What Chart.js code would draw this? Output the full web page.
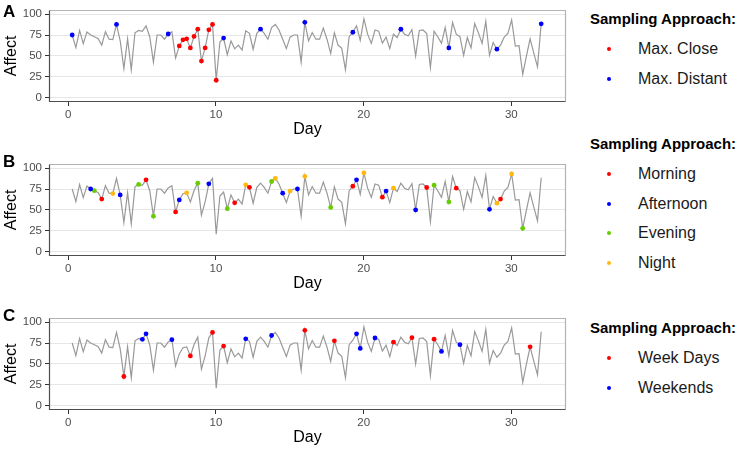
<!DOCTYPE html>
<html>
<head>
<meta charset="utf-8">
<script src="https://cdn.jsdelivr.net/npm/chart.js@4.4.1/dist/chart.umd.min.js"></script>
<style>
  body { margin: 0; width: 749px; height: 449px; background: #fff; position: relative; overflow: hidden;
         font-family: "Liberation Sans", Arial, sans-serif; }
  canvas { position: absolute; left: 0; }
  .tag { position: absolute; left: 3px; font-weight: bold; font-size: 17px; line-height: 20px; color: #000; }
  .legTitle { position: absolute; left: 590px; font-weight: bold; font-size: 15px; line-height: 18px; color: #000; white-space: nowrap; }
  .legItem { position: absolute; left: 638px; font-size: 16px; line-height: 18px; color: #1a1a1a; white-space: nowrap; }
  .legDot { position: absolute; left: 607px; width: 4px; height: 4px; border-radius: 50%; }
</style>
</head>
<body>
<canvas id="chartA" width="570" height="142" style="top:0px"></canvas>
<canvas id="chartB" width="570" height="142" style="top:154px"></canvas>
<canvas id="chartC" width="570" height="142" style="top:308px"></canvas>
<div class="tag" style="top:2px">A</div>
<div class="tag" style="top:152px">B</div>
<div class="tag" style="top:306px">C</div>
<div id="legends"></div>
<script>
// affect ratings, 4 samples a day, starting at day 0.27
const startDay = 0.27;
const perDay = 4;
const affect = [
  75, 60, 80.5, 64.6, 78.7, 75, 73, 71, 63, 79, 70, 69.5, 87.7, 68, 35, 70.7,
  33.6, 77.6, 80.5, 79.4, 86, 73, 42.6, 75, 75, 70, 76.2, 79, 47.6, 62, 69.3, 70.4,
  59.6, 73.3, 82, 43.9, 59.6, 81.2, 87.7, 21, 66.7, 71.4, 51.5, 68, 58.5, 63, 57, 80,
  77, 58, 77, 82, 77, 70, 84, 87.6, 81, 70, 58.8, 72.5, 75, 75, 42.6, 90.2, 68, 78,
  70, 70, 83.3, 70, 53, 77.6, 63, 59, 33.6, 73, 78.3, 86, 68.6, 94.2, 76, 65, 81, 79.6,
  65.3, 72.5, 58.8, 76, 72, 81.9, 76, 74, 81.4, 50, 80.4, 81, 76.8, 36, 79.6, 73, 65, 84,
  59.6, 90, 76, 73, 50.8, 72, 59.6, 88.7, 77.6, 65, 91.3, 50.8, 66, 58.1, 63, 72.5, 76.8, 93,
  61.7, 62.4, 28, 49.8, 70.4, 53.4, 37, 88.4
];
const days = affect.map((v, i) => startDay + i / perDay);

// sampled measurements (indices into affect)
const maxClose    = [29, 30, 31, 32, 33, 34, 35, 36, 37, 38, 39];
const maxDistant  = [0, 12, 26, 41, 51, 63, 76, 89, 102, 115, 127];
const morning     = [8, 20, 28, 44, 48, 76, 84, 96, 104, 116];
const afternoon   = [5, 13, 29, 37, 57, 61, 77, 85, 93, 113];
const evening     = [6, 18, 22, 34, 42, 54, 70, 98, 102, 122];
const night       = [11, 31, 47, 55, 59, 63, 79, 87, 115, 119];
const weekDays    = [14, 32, 38, 41, 63, 71, 87, 92, 98, 124];
const weekends    = [19, 20, 27, 47, 54, 77, 78, 82, 100, 105];

const dayTicks = [0, 10, 20, 30];
const affectTicks = [0, 12.5, 25, 37.5, 50, 62.5, 75, 87.5, 100];

const RED = '#FF0000', BLUE = '#0000FF', GREEN = '#66CD00', ORANGE = '#FFB90F';

const panels = [
  { id: 'chartA', top: 0, groups: [
      { name: 'Max. Close', idx: maxClose, color: RED },
      { name: 'Max. Distant', idx: maxDistant, color: BLUE } ] },
  { id: 'chartB', top: 154, groups: [
      { name: 'Morning', idx: morning, color: RED },
      { name: 'Afternoon', idx: afternoon, color: BLUE },
      { name: 'Evening', idx: evening, color: GREEN },
      { name: 'Night', idx: night, color: ORANGE } ] },
  { id: 'chartC', top: 308, groups: [
      { name: 'Week Days', idx: weekDays, color: RED },
      { name: 'Weekends', idx: weekends, color: BLUE } ] }
];

// panel border: grey top/right, darker left/bottom
const panelBorder = {
  id: 'panelBorder',
  afterDraw(chart) {
    const { ctx, chartArea: a } = chart;
    const l = Math.round(a.left) + 0.5, r = Math.round(a.right) - 0.5;
    const t = Math.round(a.top) + 0.5, b = Math.round(a.bottom) - 0.5;
    ctx.save();
    ctx.lineWidth = 1.2;
    ctx.strokeStyle = '#b3b3b3';
    ctx.beginPath();
    ctx.moveTo(l, t); ctx.lineTo(r, t); ctx.lineTo(r, b);
    ctx.stroke();
    ctx.strokeStyle = '#4d4d4d';
    ctx.beginPath();
    ctx.moveTo(l, t); ctx.lineTo(l, b); ctx.lineTo(r, b);
    ctx.stroke();
    ctx.restore();
  }
};

const isMajor = v => v % 25 === 0;

function makePanel(p) {
  const datasets = p.groups.map(g => ({
    label: g.name,
    data: g.idx.map(i => ({ x: days[i], y: affect[i] })),
    backgroundColor: g.color,
    borderWidth: 0,
    pointRadius: 2.4,
    order: 0
  }));
  datasets.push({
    label: 'Affect',
    data: affect.map((v, i) => ({ x: days[i], y: v })),
    showLine: true,
    borderColor: '#999999',
    borderWidth: 1.2,
    pointRadius: 0,
    order: 1
  });

  new Chart(document.getElementById(p.id), {
    type: 'scatter',
    data: { datasets: datasets },
    plugins: [panelBorder],
    options: {
      responsive: false,
      animation: false,
      devicePixelRatio: 1,
      layout: { padding: { top: 1, right: 3, left: 0, bottom: 0 } },
      plugins: { legend: { display: false }, tooltip: { enabled: false } },
      scales: {
        x: {
          type: 'linear', min: -1.3, max: 33.7,
          afterBuildTicks: s => { s.ticks = dayTicks.map(v => ({ value: v })); },
          afterFit: s => { s.height = 40; },
          border: { display: false },
          grid: { drawOnChartArea: false, tickLength: 4, tickColor: '#333333' },
          ticks: { color: '#4d4d4d', font: { size: 11.5, family: 'Liberation Sans' }, padding: 2, maxRotation: 0 },
          title: { display: true, text: 'Day', color: '#000', font: { size: 16, family: 'Liberation Sans' },
                   padding: { top: 0, bottom: 3 } }
        },
        y: {
          min: -5, max: 105,
          afterBuildTicks: s => { s.ticks = affectTicks.map(v => ({ value: v })); },
          afterFit: s => { s.width = 49; },
          border: { display: false },
          grid: {
            color: c => (c.tick && isMajor(c.tick.value)) ? '#e6e6e6' : '#f2f2f2',
            tickColor: c => (c.tick && isMajor(c.tick.value)) ? '#333333' : 'rgba(0,0,0,0)',
            tickLength: 4
          },
          ticks: {
            callback: v => isMajor(v) ? v : '',
            color: '#4d4d4d', font: { size: 11.5, family: 'Liberation Sans' }, padding: 3
          },
          title: { display: true, text: 'Affect', color: '#000', font: { size: 16, family: 'Liberation Sans' },
                   padding: { top: 2, bottom: 0 } }
        }
      }
    }
  });
}

panels.forEach(makePanel);

// legends on the right
const legTop = [19, 144, 328];
const legHtml = [];
panels.forEach((p, k) => {
  const y0 = legTop[k];
  legHtml.push(`<div class="legTitle" style="top:${y0 - 9}px">Sampling Approach:</div>`);
  p.groups.forEach((g, j) => {
    const yc = y0 + 30 + j * 29.5;
    legHtml.push(`<div class="legDot" style="top:${yc - 2}px;background:${g.color}"></div>`);
    legHtml.push(`<div class="legItem" style="top:${yc - 9}px">${g.name}</div>`);
  });
});
document.getElementById('legends').innerHTML = legHtml.join('');
</script>
</body>
</html>
